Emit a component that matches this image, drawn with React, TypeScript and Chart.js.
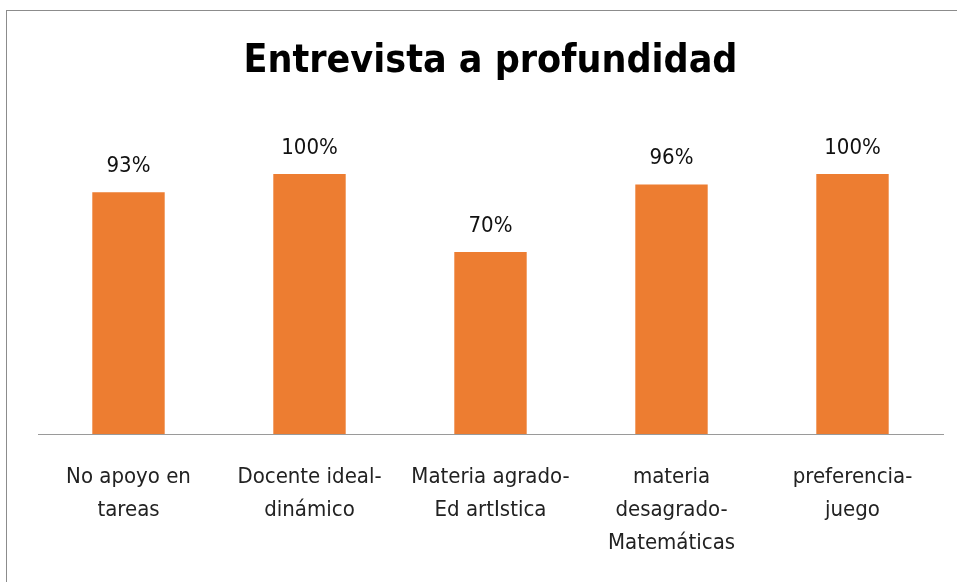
import React, { useEffect, useRef } from "react";
import { Chart, registerables } from "chart.js";

Chart.register(...registerables);

const categories: string[][] = [
  ["No apoyo en", "tareas"],
  ["Docente ideal-", "dinámico"],
  ["Materia agrado-", "Ed artIstica"],
  ["materia", "desagrado-", "Matemáticas"],
  ["preferencia-", "juego"],
];
const values: number[] = [93, 100, 70, 96, 100];
const valueLabels: string[] = ["93%", "100%", "70%", "96%", "100%"];
const titleText = "Entrevista a profundidad";

const FONT = "'Liberation Sans Narrow', 'DejaVu Sans Condensed', 'Liberation Sans', sans-serif";

export default function App() {
  const ref = useRef<HTMLCanvasElement | null>(null);
  useEffect(() => {
    if (!ref.current) return;
    const labelPlugin = {
      id: "valueLabels",
      afterDatasetsDraw(chart: any) {
        const ctx = chart.ctx;
        const meta = chart.getDatasetMeta(0);
        ctx.save();
        ctx.font = `22px ${FONT}`;
        ctx.fillStyle = "#111";
        ctx.textAlign = "center";
        ctx.textBaseline = "middle";
        meta.data.forEach((bar: any, i: number) => {
          ctx.fillText(valueLabels[i], bar.x, bar.y - 26);
        });
        ctx.restore();
      },
    };
    const titlePlugin = {
      id: "customTitle",
      afterDraw(chart: any) {
        const ctx = chart.ctx;
        const ca = chart.chartArea;
        ctx.save();
        ctx.font = `bold 39px ${FONT}`;
        ctx.fillStyle = "#000";
        ctx.textAlign = "center";
        ctx.textBaseline = "middle";
        ctx.fillText(titleText, (ca.left + ca.right) / 2, 62);
        ctx.restore();
      },
    };
    const chart = new Chart(ref.current, {
      type: "bar",
      data: {
        labels: categories,
        datasets: [
          {
            data: values,
            backgroundColor: "#ED7D31",
            categoryPercentage: 1,
            barPercentage: 0.4,
          },
        ],
      },
      options: {
        animation: false,
        responsive: false,
        maintainAspectRatio: false,
        layout: { padding: { left: 38, right: 14, top: 122, bottom: 0 } },
        plugins: { legend: { display: false }, title: { display: false }, tooltip: { enabled: false } },
        scales: {
          x: {
            grid: { display: false, drawTicks: false },
            border: { display: true, color: "#9a9a9a", width: 1 },
            ticks: {
              color: "#222",
              font: { family: FONT, size: 22, lineHeight: 1.5 },
              padding: 27,
              maxRotation: 0,
              autoSkip: false,
            },
            afterFit(scale: any) {
              scale.height = 148;
            },
          },
          y: {
            display: false,
            min: 0,
            max: 120,
          },
        },
      },
      plugins: [labelPlugin, titlePlugin],
    });
    return () => chart.destroy();
  }, []);
  return (
    <div style={{ position: "fixed", left: 0, top: 0, width: 957, height: 582, overflow: "hidden", background: "#fff" }}>
      <div
        style={{
          position: "absolute",
          left: 6,
          top: 10,
          width: 970,
          height: 600,
          border: "1.5px solid #8c8c8c",
          boxSizing: "border-box",
        }}
      />
      <canvas ref={ref} width={957} height={582} style={{ position: "absolute", left: 0, top: 0 }} />
    </div>
  );
}
